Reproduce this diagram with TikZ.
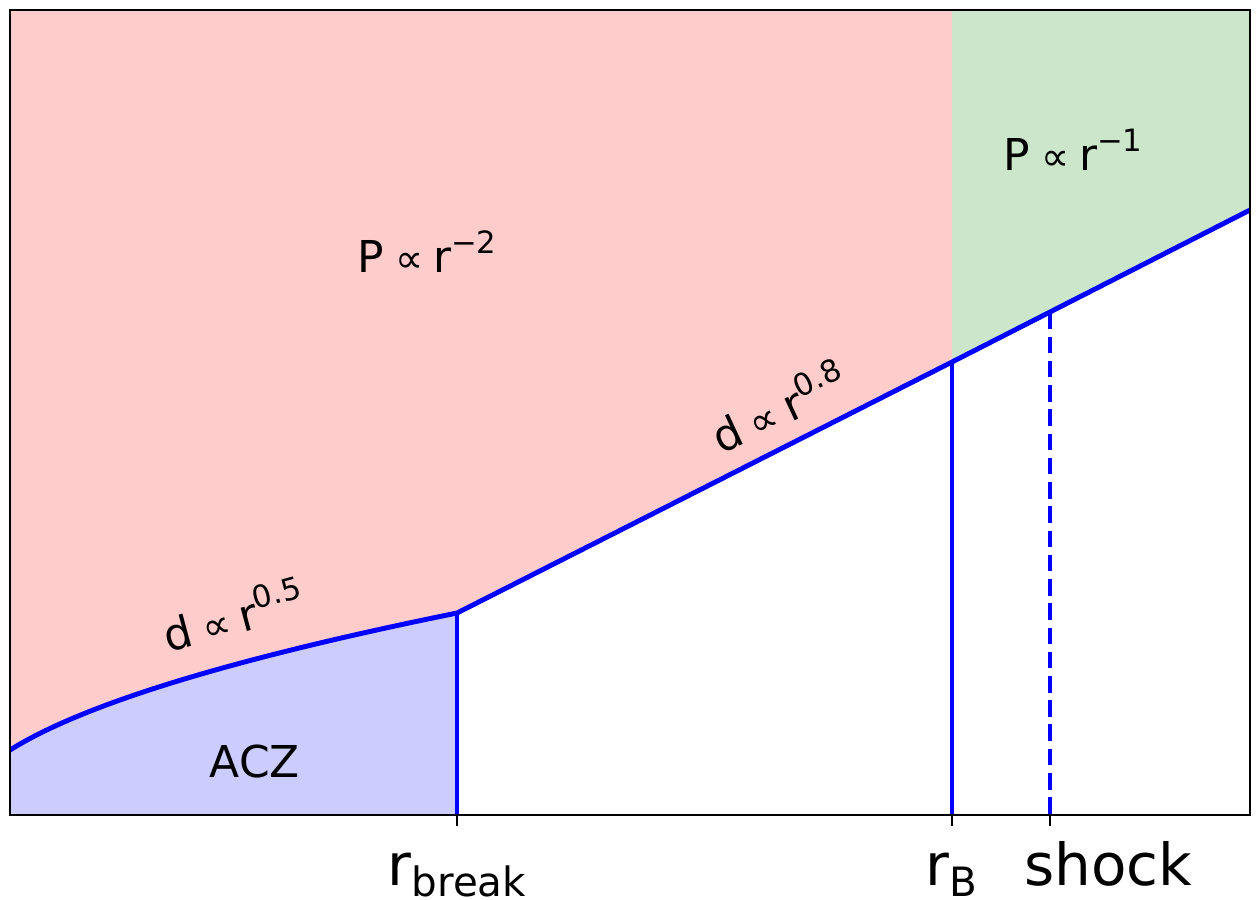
\documentclass[tikz,border=0pt]{standalone}
\usepackage{fontspec}
\setmainfont{DejaVu Sans}
\usepackage{xcolor}
\usepackage{graphicx}
\usetikzlibrary{positioning}
\definecolor{zonered}{RGB}{255,204,204}
\definecolor{zonegreen}{RGB}{204,230,204}
\definecolor{zoneblue}{RGB}{204,204,255}
\newcommand{\supx}[1]{\raisebox{0.42em}{\fontsize{17.5}{17.5}\selectfont #1}}
\newcommand{\subx}[1]{\raisebox{-0.2em}{\fontsize{23}{23}\selectfont #1}}
\newcommand{\prop}{\hspace{0.25em}\scalebox{0.9}{∝}\hspace{0.22em}}

\begin{document}
\begin{tikzpicture}[x=0.02cm, y=-0.02cm, every node/.style={inner sep=0pt, outer sep=0pt}, lbl/.style={font=\fontsize{25}{30}\selectfont}, ticklbl/.style={font=\fontsize{33}{40}\selectfont, anchor=base}, prof/.style={blue, line width=2.8pt}, frame/.style={black, line width=1.1pt}]
  \useasboundingbox (0,0) rectangle (1256,899);
  \coordinate (tl) at (10,10);
  \coordinate (br) at (1250,815);
  \coordinate (brk) at (457,613);
  \coordinate (rb) at (952,362);
  \coordinate (sh) at (1050,312.3);
  \coordinate (edge) at (1250,210);
  % zones
  \fill[zonered] (tl) -- (rb |- tl) -- (rb) -- (brk) -- plot[domain=457:10, samples=60] (\x, {815-9.046*sqrt(\x+41.6)}) -- cycle;
  \fill[zonegreen] (rb |- tl) -- (br |- tl) -- (edge) -- (rb) -- cycle;
  \fill[zoneblue] (tl |- br) -- plot[domain=10:457, samples=60] (\x, {815-9.046*sqrt(\x+41.6)}) -- (brk |- br) -- cycle;
  % profile
  \begin{scope}
    \clip (tl) rectangle (br);
    \draw[prof, line join=round] plot[domain=10:457, samples=60] (\x, {815-9.046*sqrt(\x+41.6)}) -- (rb) -- (edge);
    \draw[prof] (brk) -- (brk |- br);
    \draw[prof] (rb) -- (rb |- br);
    \draw[prof, dash pattern=on 9.5pt off 4.3pt] (sh) -- (sh |- br);
  \end{scope}
  % axes
  \draw[frame] (tl) rectangle (br);
  \foreach \p in {brk, rb, sh} {
    \draw[frame] (\p |- br) -- ++(0,11);
  }
  \node[lbl, anchor=base] (pin) at (427,272) {P\prop r\supx{−2}};
  \node[lbl, anchor=base] (pout) at (1073,170) {P\prop r\supx{−1}};
  \node[lbl, anchor=base] (acz) at (255,777) {ACZ};
  \node[lbl, rotate=15] (din) at (233,614) {d\prop r\supx{0.5}};
  \node[lbl, rotate=25] (dout) at (778,406) {d\prop r\supx{0.8}};
  \node[ticklbl] (tbrk) at (457,885) {r\subx{break}};
  \node[ticklbl] (trb) at (951,885) {r\subx{B}};
  \node[ticklbl] (tsh) at (1108,885) {shock};
\end{tikzpicture}
\end{document}
